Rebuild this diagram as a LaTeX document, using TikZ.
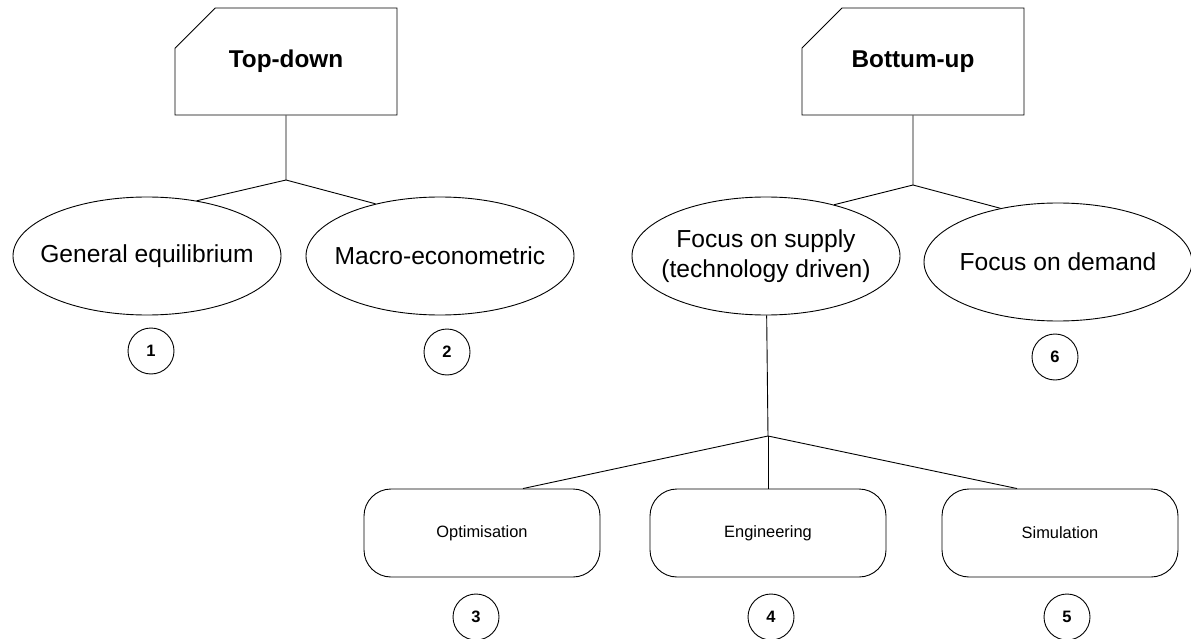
\documentclass[tikz,border=0pt]{standalone}
\usepackage{fontspec}
\setmainfont{Liberation Sans}
\usetikzlibrary{shapes}

\newcommand{\titlefont}{\fontsize{24.3}{28}\bfseries\selectfont}
\newcommand{\ovalfont}{\fontsize{24.6}{30}\selectfont}
\newcommand{\boxfont}{\fontsize{16.4}{20}\selectfont}
\newcommand{\numfont}{\fontsize{16.5}{20}\bfseries\selectfont}

\begin{document}
\begin{tikzpicture}[x=1pt,y=-1pt,line width=0.9pt]
  \tikzstyle{approach}=[chamfered rectangle,chamfered rectangle corners=north west,
    chamfered rectangle xsep=29pt,chamfered rectangle ysep=29pt,draw,
    minimum width=222pt,minimum height=107pt,inner sep=0pt,font=\titlefont]
  \tikzstyle{family}=[ellipse,draw,minimum width=268pt,minimum height=118pt,inner sep=0pt,
    label={[font=\ovalfont,align=center]center:#1}]
  \tikzstyle{method}=[rectangle,draw,rounded corners=27pt,minimum width=236pt,
    minimum height=88pt,font=\boxfont]
  \tikzstyle{num}=[circle,draw,minimum size=46pt,inner sep=0pt,font=\numfont]

  \useasboundingbox (0,0) rectangle (1191,639);

  % the two approaches
  \node [approach] (td) at (286,61.5) {Top-down};
  \node [approach] (bu) at (913,61.5) {Bottum-up};

  % model families
  \node [family=General equilibrium] (ge) at (147,256) {};
  \node [family=Macro-econometric] (me) at (440,256) {};
  \node [family={Focus on supply\\(technology driven)}] (sup) at (766,256) {};
  \node [family=Focus on demand] (dem) at (1058,262) {};

  % supply side methods
  \node [method] (opt) at (482,533) {Optimisation};
  \node [method] (eng) at (768,533) {Engineering};
  \node [method] (sim) at (1060,533) {Simulation};

  \node [num] (n1) at (151,351) {1};
  \node [num] (n2) at (447,352) {2};
  \node [num] (n6) at (1055,357) {6};
  \node [num] (n3) at (476,617) {3};
  \node [num] (n4) at (771,617) {4};
  \node [num] (n5) at (1067,617) {5};

  \coordinate (tdsplit) at (286,180);
  \coordinate (busplit) at (913,185);
  \coordinate (supsplit) at (768,436);

  \draw (td) -- (tdsplit);
  \draw (tdsplit) -- (ge.48);
  \draw (tdsplit) -- (me.141);

  \draw (bu) -- (busplit);
  \draw (busplit) -- (sup.37);
  \draw (busplit) -- (dem.137);

  \draw (sup) -- (supsplit);
  \draw (supsplit) -- ([xshift=41pt]opt.north);
  \draw (supsplit) -- (eng);
  \draw (supsplit) -- ([xshift=-43pt]sim.north);
\end{tikzpicture}
\end{document}
